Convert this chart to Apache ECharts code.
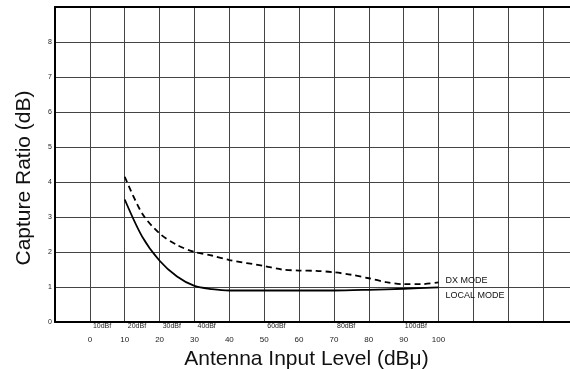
<!DOCTYPE html>
<html>
<head>
<meta charset="utf-8">
<script src="https://cdn.jsdelivr.net/npm/echarts@6/dist/echarts.min.js"></script>
<style>
  html, body { margin: 0; padding: 0; background: #fff; }
  #chart { width: 570px; height: 369px; }
</style>
</head>
<body>
<div id="chart"></div>
<script>
// DX mode (dashed)
const dxX = [10, 15, 20, 25, 30, 35, 40, 50, 55, 60, 65, 70, 75, 80, 85, 90, 95, 100];
const dxY = [4.15, 3.1, 2.53, 2.2, 2.0, 1.9, 1.77, 1.6, 1.5, 1.47, 1.46, 1.42, 1.35, 1.25, 1.14, 1.08, 1.08, 1.13];

// LOCAL mode (solid)
const localX = [10, 15, 20, 25, 30, 35, 40, 50, 60, 70, 80, 90, 100];
const localY = [3.5, 2.44, 1.75, 1.3, 1.03, 0.94, 0.9, 0.9, 0.9, 0.9, 0.92, 0.95, 0.99];

// tick labels
const dbuLabels = [0, 10, 20, 30, 40, 50, 60, 70, 80, 90, 100];
const dbfLabels = [10, 20, 30, 40, 60, 80, 100];
const ratioLabels = [0, 1, 2, 3, 4, 5, 6, 7, 8];

const dbfOffset = 6.5;

const font = 'Liberation Sans, Arial, sans-serif';
const gridColor = '#444';

const pairs = (xs, ys) => xs.map((x, i) => [x, ys[i]]);

var myChart = echarts.init(document.getElementById('chart'), null, { renderer: 'canvas' });
var option = {
  animation: false,
  grid: { left: 55, right: -8, top: 7, bottom: 47, outerBoundsMode: 'none', containLabel: false },
  xAxis: [
    {
      type: 'value',
      min: -10,
      max: 140,
      interval: 10,
      position: 'bottom',
      axisLine: { show: true, onZero: false, lineStyle: { color: '#000', width: 2 } },
      axisTick: { show: false },
      splitLine: { show: true, lineStyle: { color: gridColor, width: 1 } },
      axisLabel: {
        fontSize: 8,
        margin: 14,
        color: '#222',
        fontFamily: font,
        formatter: v => dbuLabels.indexOf(v) >= 0 ? String(v) : ''
      },
      name: 'Antenna Input Level (dBμ)',
      nameLocation: 'middle',
      nameGap: 21,
      nameTextStyle: { fontSize: 21, color: '#111', fontFamily: font, padding: [0, 20, 0, 0] }
    },
    {
      type: 'value',
      min: -10 + dbfOffset,
      max: 140 + dbfOffset,
      position: 'bottom',
      axisLine: { show: false },
      axisTick: { show: false },
      splitLine: { show: false },
      axisLabel: {
        customValues: dbfLabels,
        formatter: '{value}dBf',
        fontSize: 7,
        margin: 1,
        color: '#222',
        fontFamily: font
      }
    },
    {
      type: 'value',
      min: -10,
      max: 140,
      position: 'top',
      axisLine: { show: true, onZero: false, lineStyle: { color: '#000', width: 2 } },
      axisTick: { show: false },
      axisLabel: { show: false },
      splitLine: { show: false }
    }
  ],
  yAxis: {
    type: 'value',
    min: 0,
    max: 9,
    interval: 1,
    axisLine: { show: true, onZero: false, lineStyle: { color: '#000', width: 2 } },
    axisTick: { show: false },
    splitLine: { show: true, lineStyle: { color: gridColor, width: 1 } },
    axisLabel: {
      fontSize: 7,
      margin: 3,
      color: '#222',
      fontFamily: font,
      formatter: v => ratioLabels.indexOf(v) >= 0 ? String(v) : ''
    },
    name: 'Capture Ratio (dB)',
    nameLocation: 'middle',
    nameGap: 20,
    nameTextStyle: { fontSize: 21, color: '#111', fontFamily: font, padding: [0, 27, 0, 0] }
  },
  series: [
    {
      name: 'DX MODE',
      type: 'line',
      data: pairs(dxX, dxY),
      smooth: 0.3,
      symbol: 'none',
      lineStyle: { color: '#000', width: 1.8, type: [6, 4] },
      endLabel: {
        show: true,
        formatter: '{a}',
        fontSize: 9,
        color: '#111',
        fontFamily: font,
        distance: 7,
        offset: [0, -2]
      }
    },
    {
      name: 'LOCAL MODE',
      type: 'line',
      data: pairs(localX, localY),
      smooth: 0.3,
      symbol: 'none',
      lineStyle: { color: '#000', width: 1.8 },
      endLabel: {
        show: true,
        formatter: '{a}',
        fontSize: 9,
        color: '#111',
        fontFamily: font,
        distance: 7,
        offset: [0, 8]
      }
    }
  ]
};

option && myChart.setOption(option);
</script>
</body>
</html>
